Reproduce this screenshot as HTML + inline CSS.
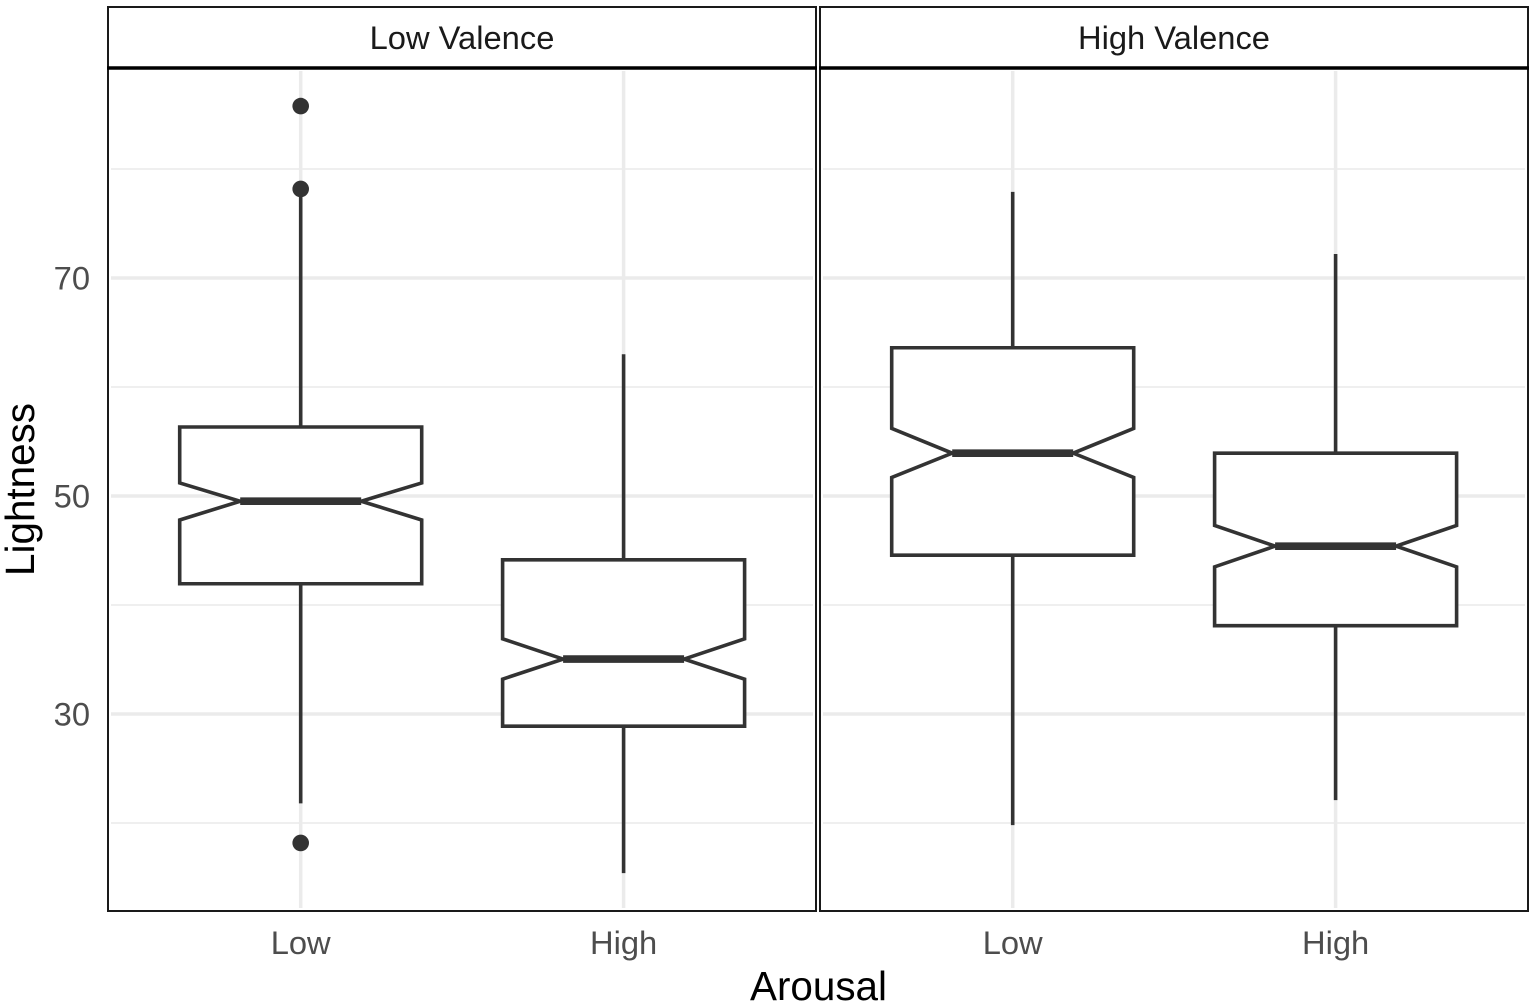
<!DOCTYPE html>
<html lang="en">
<head>
<meta charset="utf-8">
<title>Lightness by Arousal and Valence</title>
<style>
html,body{margin:0;padding:0;background:#fff;}
body{width:1535px;height:1006px;overflow:hidden;}
svg{display:block;font-family:"Liberation Sans",Arial,sans-serif;}
</style>
</head>
<body>
<svg id="chart" width="1535" height="1006" viewBox="0 0 1535 1006" xmlns="http://www.w3.org/2000/svg"></svg>
<script>
const facets = ['Low Valence', 'High Valence'];
const categories = ['Low', 'High'];
const yTicks = [30, 50, 70];
const yMinorTicks = [20, 40, 60, 80];

const lowValenceWhiskerLow = [21.8, 15.4];
const lowValenceQ1 = [41.95, 28.88];
const lowValenceNotchLow = [47.8, 33.2];
const lowValenceMedian = [49.52, 35.04];
const lowValenceNotchHigh = [51.2, 36.9];
const lowValenceQ3 = [56.33, 44.15];
const lowValenceWhiskerHigh = [78.2, 63.0];
const lowValenceOutliers = [[85.77, 78.17, 18.17], []];

const highValenceWhiskerLow = [19.8, 22.1];
const highValenceQ1 = [44.57, 38.1];
const highValenceNotchLow = [51.7, 43.5];
const highValenceMedian = [53.93, 45.4];
const highValenceNotchHigh = [56.2, 47.3];
const highValenceQ3 = [63.6, 53.93];
const highValenceWhiskerHigh = [77.9, 72.2];
const highValenceOutliers = [[], []];

const NS = 'http://www.w3.org/2000/svg';
const svg = document.getElementById('chart');
const INK = '#333333';

function make(tag, attrs, parent, text) {
  const el = document.createElementNS(NS, tag);
  for (const k in attrs) el.setAttribute(k, attrs[k]);
  if (text !== undefined) el.textContent = text;
  (parent || svg).appendChild(el);
  return el;
}

const yScale = v => 714 - (v - 30) * 10.9;
const panelLefts = [108, 820];
const panelWidth = 708;
const xScale = (panel, i) => panelLefts[panel] + 192.7 + i * 322.9;
const boxHalf = 121;
const notchHalf = 60.5;
const panelTop = 68;
const panelBottom = 911;
const stripTop = 7;

const facetData = [
  { whiskerLow: lowValenceWhiskerLow, q1: lowValenceQ1, notchLow: lowValenceNotchLow, median: lowValenceMedian, notchHigh: lowValenceNotchHigh, q3: lowValenceQ3, whiskerHigh: lowValenceWhiskerHigh, outliers: lowValenceOutliers },
  { whiskerLow: highValenceWhiskerLow, q1: highValenceQ1, notchLow: highValenceNotchLow, median: highValenceMedian, notchHigh: highValenceNotchHigh, q3: highValenceQ3, whiskerHigh: highValenceWhiskerHigh, outliers: highValenceOutliers }
];

facets.forEach((facet, p) => {
  const left = panelLefts[p];
  const right = left + panelWidth;
  const g = make('g', {});
  
  

  yMinorTicks.forEach(t => {
    const l = make('line', { x1: left + 3, x2: right - 3, y1: yScale(t), y2: yScale(t), stroke: '#efefef', 'stroke-width': 2 }, g);
    
    
  });
  yTicks.forEach(t => {
    const l = make('line', { x1: left + 3, x2: right - 3, y1: yScale(t), y2: yScale(t), stroke: '#ebebeb', 'stroke-width': 3.5 }, g);
    
    
  });
  categories.forEach((c, i) => {
    const l = make('line', { x1: xScale(p, i), x2: xScale(p, i), y1: panelTop + 3, y2: panelBottom - 3, stroke: '#ebebeb', 'stroke-width': 3.5 }, g);
    
    
  });

  const d = facetData[p];
  categories.forEach((c, i) => {
    const cx = xScale(p, i);
    const box = make('g', {}, g);
    
    

    const wu = make('line', { x1: cx, x2: cx, y1: yScale(d.whiskerHigh[i]), y2: yScale(d.q3[i]), stroke: INK, 'stroke-width': 3.6 }, box);
    
    
    const wl = make('line', { x1: cx, x2: cx, y1: yScale(d.q1[i]), y2: yScale(d.whiskerLow[i]), stroke: INK, 'stroke-width': 3.6 }, box);
    
    

    const points = [
      [cx - boxHalf, yScale(d.q3[i])],
      [cx + boxHalf, yScale(d.q3[i])],
      [cx + boxHalf, yScale(d.notchHigh[i])],
      [cx + notchHalf, yScale(d.median[i])],
      [cx + boxHalf, yScale(d.notchLow[i])],
      [cx + boxHalf, yScale(d.q1[i])],
      [cx - boxHalf, yScale(d.q1[i])],
      [cx - boxHalf, yScale(d.notchLow[i])],
      [cx - notchHalf, yScale(d.median[i])],
      [cx - boxHalf, yScale(d.notchHigh[i])]
    ].map(q => q.join(',')).join(' ');
    const poly = make('polygon', { points: points, fill: '#ffffff', stroke: INK, 'stroke-width': 3.6, 'stroke-linejoin': 'miter' }, box);
    
    

    const med = make('line', { x1: cx - notchHalf, x2: cx + notchHalf, y1: yScale(d.median[i]), y2: yScale(d.median[i]), stroke: INK, 'stroke-width': 7.6 }, box);
    
    

    d.outliers[i].forEach(v => {
      const o = make('circle', { cx: cx, cy: yScale(v), r: 8.3, fill: INK }, box);
      
      
    });

    const label = make('text', { x: cx, y: 954, 'text-anchor': 'middle', 'font-size': 32.7, fill: '#4d4d4d' }, g, c);
    
    
  });

  const border = make('rect', { x: left, y: panelTop, width: panelWidth, height: panelBottom - panelTop, fill: 'none', stroke: '#1a1a1a', 'stroke-width': 2 }, g);
  
  

  const strip = make('rect', { x: left, y: stripTop, width: panelWidth, height: panelTop - stripTop, fill: '#ffffff', stroke: '#1a1a1a', 'stroke-width': 2 }, g);
  
  
  const stripBase = make('line', { x1: left - 1, x2: right + 1, y1: panelTop, y2: panelTop, stroke: '#000000', 'stroke-width': 3.4 }, g);
  
  
  const title = make('text', { x: left + panelWidth / 2, y: 49, 'text-anchor': 'middle', 'font-size': 32.7, fill: '#1a1a1a' }, g, facet);
  
  
});

yTicks.forEach(t => {
  const l = make('text', { x: 90, y: yScale(t) + 11.5, 'text-anchor': 'end', 'font-size': 32.7, fill: '#4d4d4d' }, svg, String(t));
  
  
});

const yTitle = make('text', { transform: 'translate(34 489.5) rotate(-90)', 'text-anchor': 'middle', 'font-size': 40.4, fill: '#000000' }, svg, 'Lightness');



const xTitle = make('text', { x: 818.5, y: 1000, 'text-anchor': 'middle', 'font-size': 40.4, fill: '#000000' }, svg, 'Arousal');


</script>
</body>
</html>
